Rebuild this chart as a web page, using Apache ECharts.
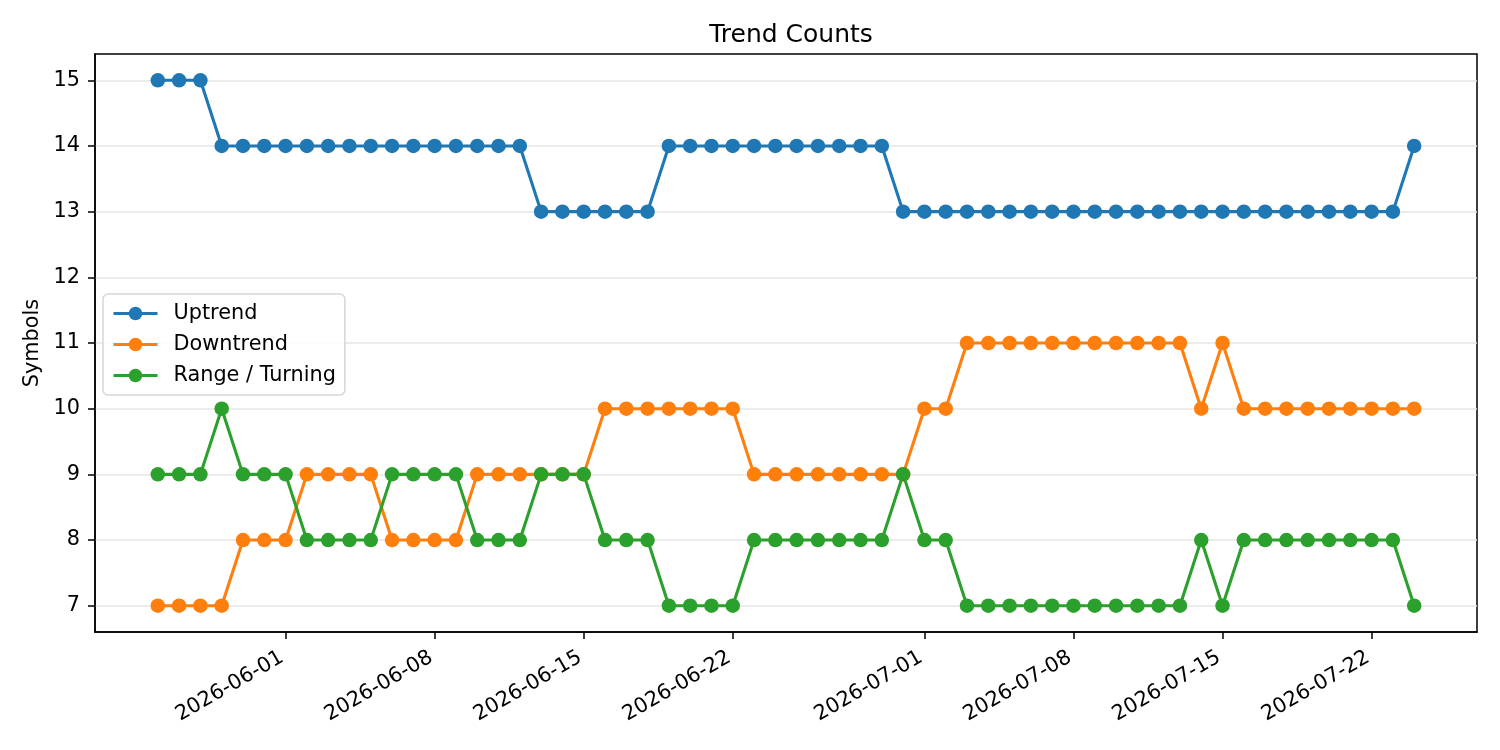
<!DOCTYPE html>
<html>
<head>
<meta charset="utf-8">
<title>Trend Counts</title>
<script src="https://cdn.jsdelivr.net/npm/echarts@6/dist/echarts.min.js"></script>
<style>
  html, body { margin: 0; padding: 0; background: #fff; }
  #chart { width: 1500px; height: 750px; }
</style>
</head>
<body>
<div id="chart"></div>
<script>
// daily counts, one value per day starting at startDate
const startDate = '2026-05-26';

const uptrend = [
  15, 15, 15, 14, 14, 14, 14, 14, 14, 14, 14, 14, 14, 14, 14, 14, 14, 14,
  13, 13, 13, 13, 13, 13, 14, 14, 14, 14, 14, 14, 14, 14, 14, 14, 14,
  13, 13, 13, 13, 13, 13, 13, 13, 13, 13, 13, 13, 13, 13, 13, 13, 13, 13,
  13, 13, 13, 13, 13, 13, 14,
];

const downtrend = [
  7, 7, 7, 7, 8, 8, 8, 9, 9, 9, 9, 8, 8, 8, 8, 9, 9, 9, 9, 9, 9,
  10, 10, 10, 10, 10, 10, 10, 9, 9, 9, 9, 9, 9, 9, 9, 10, 10,
  11, 11, 11, 11, 11, 11, 11, 11, 11, 11, 11, 10, 11,
  10, 10, 10, 10, 10, 10, 10, 10, 10,
];

const rangeTurning = [
  9, 9, 9, 10, 9, 9, 9, 8, 8, 8, 8, 9, 9, 9, 9, 8, 8, 8, 9, 9, 9,
  8, 8, 8, 7, 7, 7, 7, 8, 8, 8, 8, 8, 8, 8, 9, 8, 8,
  7, 7, 7, 7, 7, 7, 7, 7, 7, 7, 7, 8, 7,
  8, 8, 8, 8, 8, 8, 8, 8, 7,
];

const tickDates = [
  '2026-06-01', '2026-06-08', '2026-06-15', '2026-06-22',
  '2026-07-01', '2026-07-08', '2026-07-15', '2026-07-22',
];

const yTicks = [7, 8, 9, 10, 11, 12, 13, 14, 15];

const DAY = 24 * 3600 * 1000;
const FONT = 'DejaVu Sans';
const FS = 20.8;

const t0 = Date.parse(startDate);
const dates = uptrend.map((v, i) => t0 + i * DAY);

function pad(n) {
  return n < 10 ? '0' + n : '' + n;
}

function fmtDate(ts) {
  const d = new Date(ts);
  return d.getUTCFullYear() + '-' + pad(d.getUTCMonth() + 1) + '-' + pad(d.getUTCDate());
}

function makeSeries(name, values, color) {
  return {
    name: name,
    type: 'line',
    data: values.map((v, i) => [dates[i], v]),
    symbol: 'circle',
    symbolSize: 14.5,
    showAllSymbol: true,
    lineStyle: {color: color, width: 3.1},
    itemStyle: {color: color, borderWidth: 0},
    emphasis: {disabled: true},
  };
}

// matplotlib style 5% margins around the data
const span = dates[dates.length - 1] - dates[0];
const xMin = dates[0] - span * 0.05;
const xMax = dates[dates.length - 1] + span * 0.05;

const tickTs = tickDates.map((s) => Date.parse(s));
const axisColor = '#000';

const chart = echarts.init(document.getElementById('chart'), null, {renderer: 'canvas'});

chart.setOption({
  animation: false,
  backgroundColor: '#fff',
  title: {
    text: 'Trend Counts',
    left: 786,
    textAlign: 'center',
    top: 18,
    textStyle: {fontFamily: FONT, fontSize: 25, fontWeight: 'normal', color: '#000'},
  },
  grid: {
    left: 95, right: 23, top: 54, bottom: 118,
    show: true, borderColor: axisColor, borderWidth: 1.5,
  },
  legend: {
    orient: 'vertical',
    left: 103,
    top: 294,
    padding: [9, 9, 9, 9],
    itemWidth: 44,
    itemHeight: 17,
    itemGap: 10,
    backgroundColor: 'rgba(255,255,255,0.8)',
    borderColor: '#d6d6d6',
    borderWidth: 1.5,
    borderRadius: 5,
    lineStyle: {width: 3},
    textStyle: {fontFamily: FONT, fontSize: FS, lineHeight: 21, color: '#000', padding: [0, 0, 0, 11]},
    data: ['Uptrend', 'Downtrend', 'Range / Turning'],
  },
  xAxis: {
    type: 'value',
    min: xMin,
    max: xMax,
    axisLine: {lineStyle: {color: axisColor, width: 1.5}},
    axisTick: {show: true, length: 7, customValues: tickTs, lineStyle: {color: axisColor, width: 1.5}},
    axisLabel: {
      customValues: tickTs,
      rotate: 30,
      margin: 22,
      padding: [0, 4, 0, 0],
      formatter: fmtDate,
      fontFamily: FONT, fontSize: FS, color: '#000',
    },
    splitLine: {show: false},
  },
  yAxis: {
    type: 'value',
    min: 6.6,
    max: 15.4,
    name: 'Symbols',
    nameLocation: 'middle',
    nameGap: 52,
    nameTextStyle: {fontFamily: FONT, fontSize: FS, color: '#000'},
    axisLine: {show: true, lineStyle: {color: axisColor, width: 1.5}},
    axisTick: {show: true, length: 7, customValues: yTicks, lineStyle: {color: axisColor, width: 1.5}},
    axisLabel: {customValues: yTicks, margin: 15, fontFamily: FONT, fontSize: FS, color: '#000'},
    splitLine: {show: true, lineStyle: {color: '#e6e6e6', width: 1.5}},
  },
  series: [
    makeSeries('Uptrend', uptrend, '#1f77b4'),
    makeSeries('Downtrend', downtrend, '#ff7f0e'),
    makeSeries('Range / Turning', rangeTurning, '#2ca02c'),
  ],
});
</script>
</body>
</html>
